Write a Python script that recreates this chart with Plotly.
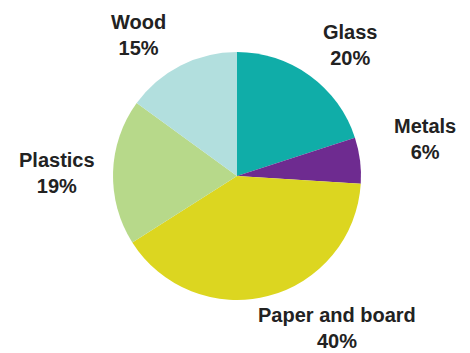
import plotly.graph_objects as go

categories = ["Glass", "Metals", "Paper and board", "Plastics", "Wood"]
values = [20, 6, 40, 19, 15]
pct_labels = ["20%", "6%", "40%", "19%", "15%"]
colors = ["#10ADA8", "#6E2B90", "#DCD620", "#B7D98A", "#B2DFDE"]

W, H = 470, 353
# label centre positions in pixels (x, y from top)
label_pos = {
    "Glass": (350, 45),
    "Metals": (425, 139),
    "Paper and board": (337, 328),
    "Plastics": (57, 173),
    "Wood": (138, 35),
}

fig = go.Figure(go.Pie(
    labels=categories,
    values=values,
    sort=False,
    direction="clockwise",
    rotation=0,
    marker=dict(colors=colors, line=dict(width=0)),
    textinfo="none",
    hoverinfo="label+percent",
    showlegend=False,
    domain=dict(x=[113 / W, 361 / W], y=[1 - 300 / H, 1 - 52 / H]),
))

for cat, pct in zip(categories, pct_labels):
    px, py = label_pos[cat]
    fig.add_annotation(
        x=px / W, y=1 - py / H, xref="paper", yref="paper",
        text=f"<b>{cat}</b><br><b>{pct}</b>", showarrow=False,
        xanchor="center", yanchor="middle", align="center",
        font=dict(family="Liberation Sans, Arial, sans-serif", size=20, color="#222222"),
    )

fig.update_layout(
    width=W, height=H,
    margin=dict(l=0, r=0, t=0, b=0),
    paper_bgcolor="white", plot_bgcolor="white",
    font=dict(family="Liberation Sans, Arial, sans-serif"),
)

fig.write_html("out.html")
